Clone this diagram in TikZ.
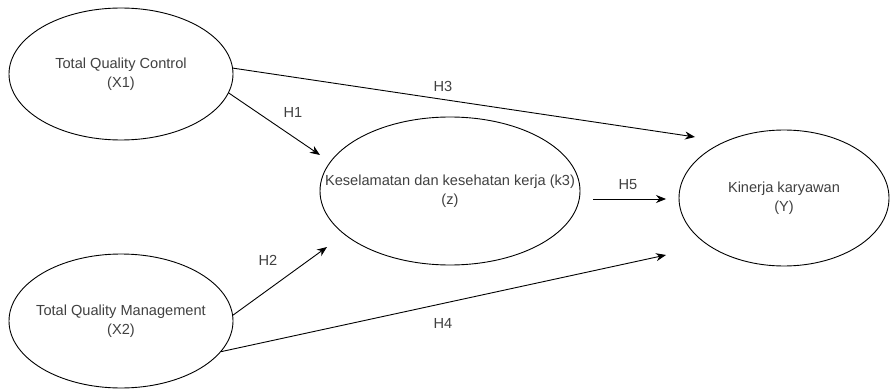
\documentclass[tikz,border=0pt]{standalone}
\usepackage{fontspec}
\setmainfont{Liberation Sans}
\usetikzlibrary{shapes.geometric,arrows.meta}
\begin{document}
\begin{tikzpicture}[x=1pt,y=-1pt,
  every node/.style={font=\fontsize{14.6}{18.5}\selectfont, text=black!75},
  var/.style={draw=black, line width=0.9pt, ellipse, inner sep=0pt},
  vtext/.style={align=center, inner sep=0pt},
  conn/.style={draw=black, line width=0.9pt, -{Stealth[length=10pt,width=8pt]}},
  hlabel/.style={inner sep=0pt}]
\useasboundingbox (0,0) rectangle (890,390);
\node[var, minimum width=224pt, minimum height=132pt,
  label={[vtext]center:Total Quality Control\\(X1)}] (x1) at (121,74) {};
\node[var, minimum width=224pt, minimum height=134pt,
  label={[vtext]center:Total Quality Management\\(X2)}] (x2) at (121,321) {};
\node[var, minimum width=260pt, minimum height=148pt,
  label={[vtext]center:Keselamatan dan kesehatan kerja (k3)\\(z)}] (z) at (450,191) {};
\node[var, minimum width=210pt, minimum height=136pt,
  label={[vtext]center:Kinerja karyawan\\(Y)}] (y) at (784,198) {};
\coordinate (t1) at (320,155);
\coordinate (t2) at (327,247);
\coordinate (t3) at (695,137);
\coordinate (t4) at (666,255);
\coordinate (s5) at (593,199);
\coordinate (t5) at (666,199);
\draw[conn] (x1.3) -- (t3);
\draw[conn] (x1.-10) -- (t1);
\draw[conn] (x2.3) -- (t2);
\draw[conn] (x2.-17) -- (t4);
\draw[conn] (s5) -- (t5);
\node[hlabel] (h1) at (293,112) {H1};
\node[hlabel] (h2) at (268,260) {H2};
\node[hlabel] (h3) at (443,86) {H3};
\node[hlabel] (h4) at (443,323) {H4};
\node[hlabel] (h5) at (628,185) {H5};
\end{tikzpicture}
\end{document}
